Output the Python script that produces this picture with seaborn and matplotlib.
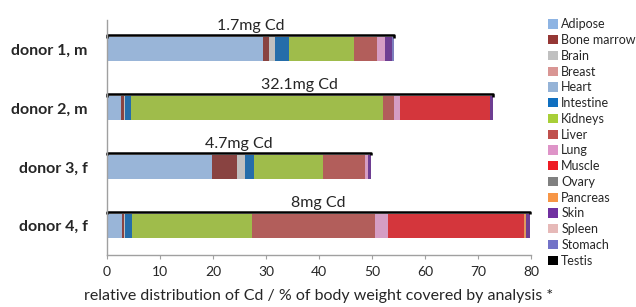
import matplotlib
matplotlib.use("Agg")
import matplotlib.pyplot as plt
from matplotlib.patches import Patch
import seaborn as sns
import pandas as pd
import numpy as np

donors = ["donor 1, m", "donor 2, m", "donor 3, f", "donor 4, f"]
cd_labels = ["1.7mg Cd", "32.1mg Cd", "4.7mg Cd", "8mg Cd"]

tissues = ["Adipose", "Bone marrow", "Brain", "Breast", "Heart", "Intestine",
           "Kidneys", "Liver", "Lung", "Muscle", "Ovary", "Pancreas", "Skin",
           "Spleen", "Stomach", "Testis"]
colors = ["#8EB4E3", "#953735", "#C0C0C0", "#D99694", "#95B3D7", "#0F6FC0",
          "#A8CF38", "#C0504D", "#DE94C8", "#EE1C24", "#808080", "#F79646",
          "#7030A0", "#E6B9B8", "#7373C8", "#000000"]

# % of body weight per tissue, one value per donor
adipose = [29.4, 2.6, 19.9, 2.8]
bone_marrow = [1.1, 0.6, 4.7, 0.4]
brain = [1.3, 0.3, 1.4, 0.3]
breast = [0, 0, 0, 0]
heart = [0, 0, 0, 0]
intestine = [2.6, 1.1, 1.7, 1.2]
kidneys = [12.2, 47.4, 13.1, 22.6]
liver = [4.3, 2.2, 7.8, 23.3]
lung = [1.5, 1.1, 0.6, 2.5]
muscle = [0, 17.0, 0, 25.6]
ovary = [0, 0, 0, 0]
pancreas = [0, 0, 0, 0.3]
skin = [1.4, 0.5, 0.7, 0.8]
spleen = [0, 0, 0, 0]
stomach = [0.3, 0, 0, 0]
testis = [0, 0, 0, 0]

values = [adipose, bone_marrow, brain, breast, heart, intestine, kidneys, liver,
          lung, muscle, ovary, pancreas, skin, spleen, stomach, testis]

df = pd.DataFrame(dict(zip(tissues, values)), index=donors)
cum = df.cumsum(axis=1)
totals = cum.iloc[:, -1].values

sns.set_style("white")
plt.rcParams["font.family"] = ["Lato", "DejaVu Sans"]

fig = plt.figure(figsize=(6.36, 3.07), dpi=100)
ax = fig.add_axes([0.168, 0.169, 0.667, 0.766])

for tissue, col in reversed(list(zip(tissues, colors))):
    sns.barplot(x=cum[tissue].values, y=donors, color=col, orient="h",
                width=0.41, linewidth=0, ax=ax)

# brackets with Cd amount
for i, (tot, lab) in enumerate(zip(totals, cd_labels)):
    ax.plot([0, 0, tot, tot], [i - 0.195, i - 0.24, i - 0.24, i - 0.195],
            color="black", lw=1.8, solid_capstyle="butt", clip_on=False)
    ax.text(tot / 2, i - 0.275, lab, ha="center", va="bottom", fontsize=11.5)

ax.set_xlim(0, 80)
ax.set_ylim(3.5, -0.5)
ax.set_xticks(range(0, 81, 10))
ax.tick_params(axis="x", labelsize=10, length=3, color="#A0A0A0", direction="out",
               bottom=True, pad=5)
ax.tick_params(axis="y", length=0, pad=14)
for t in ax.get_yticklabels():
    t.set_fontweight("bold")
    t.set_fontsize(11.5)
for s in ["top", "right"]:
    ax.spines[s].set_visible(False)
for s in ["left", "bottom"]:
    ax.spines[s].set_color("#A0A0A0")
    ax.spines[s].set_linewidth(1)
ax.set_xlabel("relative distribution of Cd / % of body weight covered by analysis *",
              fontsize=11.5, labelpad=8)
ax.set_ylabel("")

handles = [Patch(facecolor=c, edgecolor="none") for c in colors]
fig.legend(handles, tissues, loc="upper left", bbox_to_anchor=(0.862, 0.94),
           frameon=False, fontsize=9, handlelength=0.75, handleheight=0.75,
           handletextpad=0.3, labelspacing=0.3, borderaxespad=0, borderpad=0)

fig.savefig("out.png", dpi=100)
